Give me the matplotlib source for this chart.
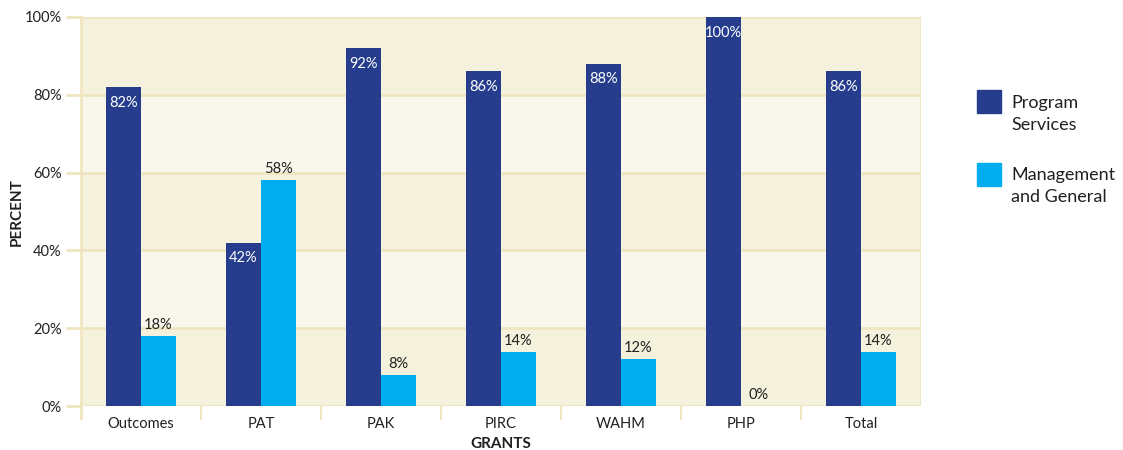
import matplotlib
matplotlib.use("Agg")
import matplotlib.pyplot as plt
from matplotlib.patches import Rectangle
import numpy as np

categories = ["Outcomes", "PAT", "PAK", "PIRC", "WAHM", "PHP", "Total"]
program_services = [82, 42, 92, 86, 88, 100, 86]
management_general = [18, 58, 8, 14, 12, 0, 14]
yticks = [0, 20, 40, 60, 80, 100]

DARK = "#253D8C"
LIGHT = "#00AEEF"
BAND_DARK = "#F4F1DC"
BAND_LIGHT = "#F9F7EC"
GRID = "#EFE6C0"
TEXT = "#231F20"

plt.rcParams['font.family'] = ['Lato', 'DejaVu Sans']

fig = plt.figure(figsize=(11.23, 4.5), dpi=100)
ax = fig.add_axes([81/1123, 1-406/450, 840/1123, 389/450])

n = len(categories)
ax.set_xlim(0, n)
ax.set_ylim(0, 100)

# bands
for y0 in range(0, 100, 20):
    c = BAND_DARK if (y0 // 20) % 2 == 0 else BAND_LIGHT
    ax.axhspan(y0, y0 + 20, color=c, zorder=0, lw=0)
for y in yticks:
    ax.axhline(y, color=GRID, lw=2, zorder=1)
ax.axvline(n, color=GRID, lw=2, zorder=1)

x = np.arange(n) + 0.5
w = 35/120
ax.bar(x - w/2, program_services, w, color=DARK, zorder=3)
ax.bar(x + w/2, management_general, w, color=LIGHT, zorder=3)

for xi, v in zip(x, program_services):
    ax.text(xi - w/2, v - 2.2, f"{v}%", ha='center', va='top', color='white', fontsize=10.5, zorder=4)
for xi, v in zip(x, management_general):
    ax.text(xi + w/2, v + 1.0, f"{v}%", ha='center', va='bottom', color=TEXT, fontsize=10.5, zorder=4)

for s in ['top', 'right', 'bottom']:
    ax.spines[s].set_visible(False)
ax.spines['left'].set_color(GRID)
ax.spines['left'].set_linewidth(2)
ax.spines['left'].set_bounds(-3, 100)
ax.spines['left'].set_clip_on(False)

ax.set_yticks(yticks)
ax.set_yticklabels([f"{t}%" for t in yticks], fontsize=10.5, color=TEXT)
ax.tick_params(axis='y', length=11, width=2, color=GRID, pad=3)

ax.set_xticks(np.arange(1, n))
ax.set_xticklabels([])
ax.tick_params(axis='x', length=10, width=1.5, color=GRID, direction='out')
for xi, c in zip(x, categories):
    ax.text(xi, -2.8, c, ha='center', va='top', fontsize=10.5, color=TEXT)

ax.text(n/2, -8.0, "GRANTS", ha='center', va='top', fontsize=11, fontweight='bold', color=TEXT)
fig.text(17/1123, 1-212/450, "PERCENT", rotation=90, ha='center', va='center',
         fontsize=11, fontweight='bold', color=TEXT)

# legend
fig.patches.append(Rectangle((977/1123, 1-113/450), 24/1123, 23/450, transform=fig.transFigure, color=DARK))
fig.patches.append(Rectangle((977/1123, 1-186/450), 24/1123, 23/450, transform=fig.transFigure, color=LIGHT))
fig.text(1011/1123, 1-114/450, "Program\nServices", ha='left', va='center', fontsize=13, color=TEXT, linespacing=1.45)
fig.text(1011/1123, 1-186/450, "Management\nand General", ha='left', va='center', fontsize=13, color=TEXT, linespacing=1.45)

fig.savefig("out.png", dpi=100, facecolor='white')
